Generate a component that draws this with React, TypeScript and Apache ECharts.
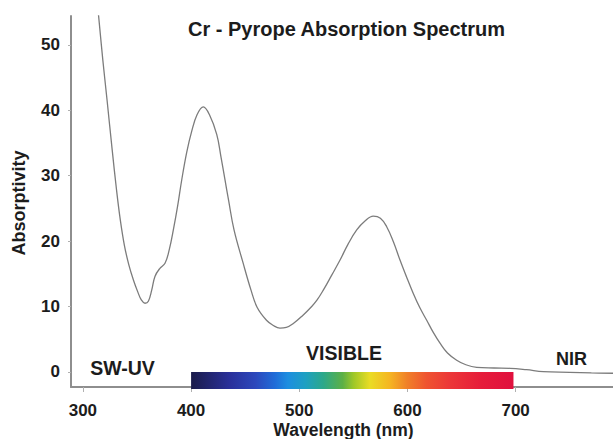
import React, { useEffect, useRef } from "react";
import * as echarts from "echarts";

const wavelengths = [314, 318.4, 322.3, 327.1, 331.1, 334.6, 338.3, 342.4, 346.6, 350.8, 354, 357.4, 360.5, 363.6, 366.6, 371, 375.9, 380, 383.6, 387.5, 391.3, 396, 400.6, 405.5, 411.3, 417, 423.7, 427.5, 431.4, 434.6, 439.7, 448, 455.4, 461, 469.7, 476, 482.2, 488, 494.5, 503, 511.5, 516.5, 522.2, 530, 537.7, 545, 553.1, 561, 568.4, 575, 580.8, 587, 593.1, 599, 605.4, 611.5, 617.8, 624, 630.1, 637, 645.5, 654, 664, 680, 694.8, 710, 725.6, 750, 770, 790];
const absorptivity = [55.3, 47.7, 41.6, 33.9, 27.8, 23.2, 19.4, 16.4, 14.1, 12.2, 11.0, 10.5, 10.8, 12.5, 14.6, 15.8, 16.6, 18.8, 21.7, 25.3, 29.3, 33.6, 36.8, 39.3, 40.5, 39.3, 36.3, 33.0, 29.3, 26.3, 21.7, 16.7, 12.5, 9.9, 7.9, 7.1, 6.7, 6.8, 7.4, 8.6, 10.0, 11.0, 12.5, 14.8, 17.1, 19.5, 21.7, 23.1, 23.8, 23.5, 22.2, 19.9, 17.1, 14.6, 12.0, 9.8, 7.9, 6.0, 4.4, 2.9, 1.8, 1.1, 0.7, 0.6, 0.56, 0.35, 0.05, -0.05, -0.15, -0.2];

const xTicks = [300, 400, 500, 600, 700];
const yTicks = [0, 10, 20, 30, 40, 50];

const visibleRange = [400, 698];
const spectrumOffsets = [0, 0.12, 0.2, 0.26, 0.3, 0.355, 0.41, 0.47, 0.505, 0.555, 0.615, 0.67, 0.73, 0.8, 0.9, 1];
const spectrumColors = ["#1b1c4a", "#2a309a", "#2c48bc", "#1f6cd8", "#1d8ee0", "#1ea0c2", "#2ca88a", "#5cb046", "#a0c828", "#eadc24", "#f5b622", "#f08028", "#ef5430", "#ec3838", "#e61c3a", "#e0103e"];

const title = "Cr - Pyrope Absorption Spectrum";
const regionLabels = ["SW-UV", "VISIBLE", "NIR"];
const xAxisTitle = "Wavelength (nm)";
const yAxisTitle = "Absorptivity";

export default function App() {
  const ref = useRef<HTMLDivElement>(null);
  useEffect(() => {
    document.body.style.margin = "0";
    const chart = echarts.init(ref.current!, null, { renderer: "svg" });
    const font = "'Liberation Sans', Arial, sans-serif";
    const textColor = "#1c1c1c";
    const axisColor = "#8e8e8e";
    const stops = spectrumOffsets.map((o, i) => ({ offset: o, color: spectrumColors[i] }));
    chart.setOption({
      animation: false,
      backgroundColor: "#ffffff",
      grid: { left: 71, right: 0, top: 16, bottom: 52, containLabel: false, outerBoundsMode: "none" },
      xAxis: {
        type: "value",
        min: 289,
        max: 790,
        splitLine: { show: false },
        axisLine: { onZero: false, lineStyle: { color: axisColor, width: 2 } },
        axisTick: { show: true, length: 5, customValues: xTicks, lineStyle: { color: "#b0b0b0", width: 1 } },
        axisLabel: { customValues: xTicks, margin: 15, fontSize: 17, fontWeight: "bold", color: textColor, fontFamily: font },
      },
      yAxis: {
        type: "value",
        min: -2.3,
        max: 54.4,
        splitLine: { show: false },
        axisLine: { show: true, lineStyle: { color: axisColor, width: 2 } },
        axisTick: { show: true, length: 3, customValues: yTicks, lineStyle: { color: "#b0b0b0", width: 1 } },
        axisLabel: { customValues: yTicks, margin: 11, fontSize: 17, fontWeight: "bold", color: textColor, fontFamily: font },
      },
      series: [
        {
          type: "custom",
          z: 3,
          clip: false,
          encode: { x: [0, 2], y: 1 },
          data: [[visibleRange[0], 0, visibleRange[1]]],
          renderItem: (params: any, api: any) => {
            const p0 = api.coord([api.value(0), api.value(1)]);
            const p1 = api.coord([api.value(2), api.value(1)]);
            const h = api.size([0, 2.6])[1];
            return {
              type: "rect",
              shape: { x: p0[0], y: p0[1], width: p1[0] - p0[0], height: h },
              style: {
                fill: { type: "linear", x: 0, y: 0, x2: 1, y2: 0, colorStops: stops },
              },
            };
          },
        },
        {
          type: "line",
          data: wavelengths.map((w, i) => [w, absorptivity[i]]),
          showSymbol: false,
          smooth: 0.4,
          lineStyle: { color: "#7c7c7c", width: 1.3 },
          z: 4,
        },
      ],
      graphic: [
        { type: "text", x: 346.5, y: 29, style: { text: title, font: `bold 20px ${font}`, fill: textColor, textAlign: "center", textVerticalAlign: "middle" } },
        { type: "text", x: 122.5, y: 368, style: { text: regionLabels[0], font: `bold 19.5px ${font}`, fill: textColor, textAlign: "center", textVerticalAlign: "middle" } },
        { type: "text", x: 344, y: 352.5, style: { text: regionLabels[1], font: `bold 19.5px ${font}`, fill: textColor, textAlign: "center", textVerticalAlign: "middle" } },
        { type: "text", x: 571.5, y: 358.5, style: { text: regionLabels[2], font: `bold 18px ${font}`, fill: textColor, textAlign: "center", textVerticalAlign: "middle" } },
        { type: "text", x: 343.5, y: 430, style: { text: xAxisTitle, font: `bold 17.5px ${font}`, fill: textColor, textAlign: "center", textVerticalAlign: "middle" } },
        { type: "text", x: 19, y: 203, rotation: Math.PI / 2, style: { text: yAxisTitle, font: `bold 18px ${font}`, fill: textColor, textAlign: "center", textVerticalAlign: "middle" } },
      ],
    });
    return () => chart.dispose();
  }, []);
  return <div ref={ref} style={{ position: "fixed", left: 0, top: 0, width: 613, height: 439 }} />;
}
